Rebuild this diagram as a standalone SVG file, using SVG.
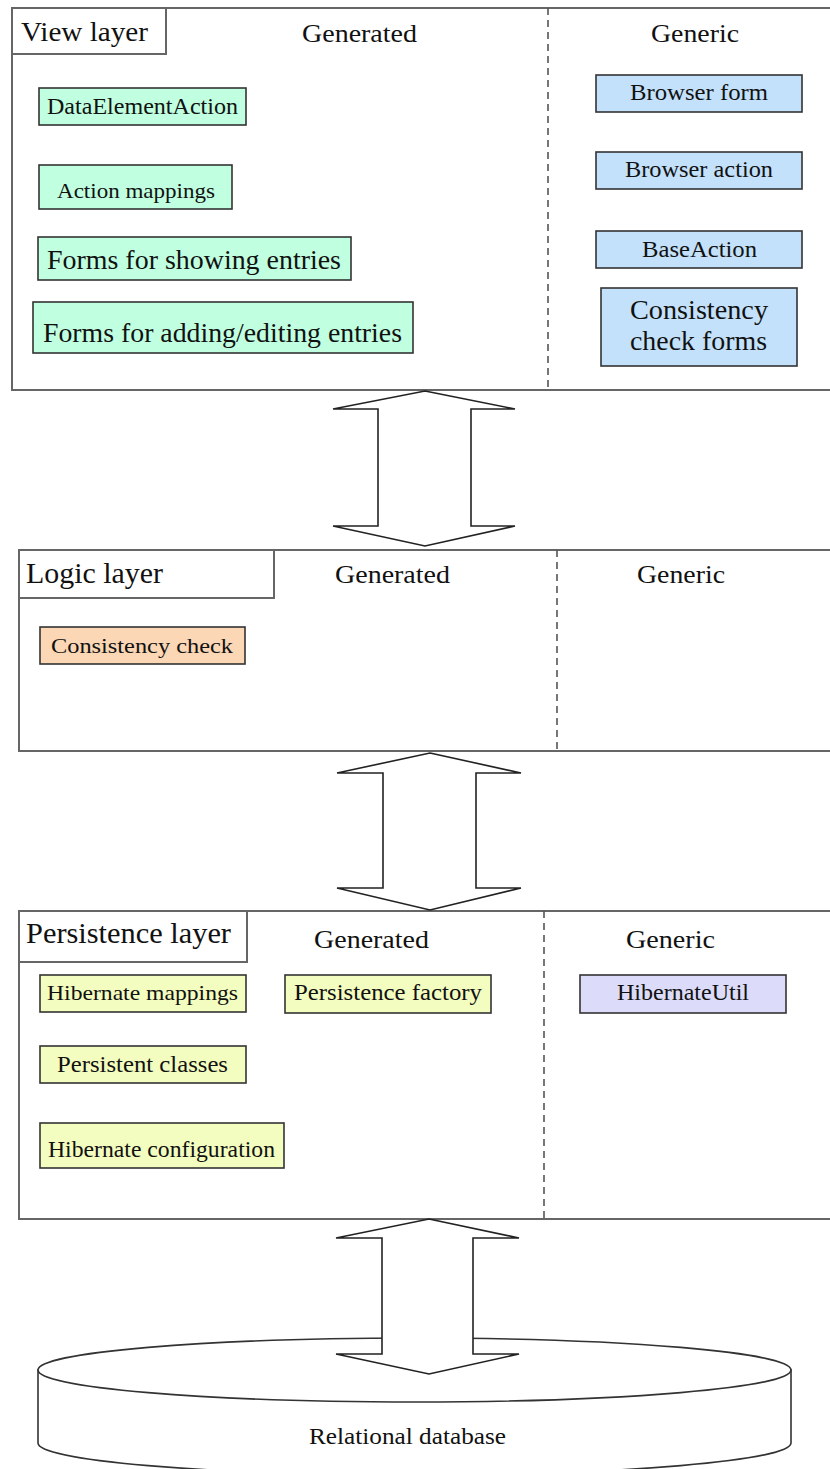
<svg xmlns="http://www.w3.org/2000/svg" width="830" height="1469" viewBox="0 0 830 1469">
<defs>
<style>
.layer{fill:#fff;stroke:#666;stroke-width:2}
.title{fill:#fff;stroke:#666;stroke-width:2}
.div{stroke:#555;stroke-width:1.6;stroke-dasharray:7,5;fill:none}
.node{stroke:#333;stroke-width:1.6}
.green{fill:#c0ffe0}
.blue{fill:#c3e1fb}
.peach{fill:#fbd7b5}
.yellow{fill:#f3fdbf}
.lav{fill:#dcdcfa}
text{font-family:'Liberation Serif','Times New Roman',Times,serif;fill:#111}
.arrow{fill:#fff;stroke:#222;stroke-width:1.6;stroke-linejoin:miter}
.db{fill:#fff;stroke:#333;stroke-width:1.6}
</style>
</defs>
<rect width="830" height="1469" fill="#fff"/>

<g id="view-layer">
<rect class="layer" x="12" y="8" width="830" height="382"/>
<rect class="title" x="12" y="8" width="154" height="46"/>
<line class="div" x1="548" y1="8" x2="548" y2="390"/>
<text x="21" y="41" font-size="28" textLength="127" lengthAdjust="spacingAndGlyphs">View layer</text>
<text x="302" y="42" font-size="26" textLength="115" lengthAdjust="spacingAndGlyphs">Generated</text>
<text x="651" y="42" font-size="26" textLength="88" lengthAdjust="spacingAndGlyphs">Generic</text>
</g>
<g id="node-dataelementaction">
<rect class="node green" x="39" y="88" width="207" height="37"/>
<text x="47" y="114" font-size="24" textLength="191" lengthAdjust="spacingAndGlyphs">DataElementAction</text>
</g>
<g id="node-action-mappings">
<rect class="node green" x="39" y="165" width="193" height="44"/>
<text x="57" y="198" font-size="22" textLength="158" lengthAdjust="spacingAndGlyphs">Action mappings</text>
</g>
<g id="node-forms-showing">
<rect class="node green" x="38" y="237" width="313" height="43"/>
<text x="47" y="269" font-size="27" textLength="294" lengthAdjust="spacingAndGlyphs">Forms for showing entries</text>
</g>
<g id="node-forms-adding">
<rect class="node green" x="33" y="302" width="380" height="51"/>
<text x="43" y="342" font-size="27" textLength="359" lengthAdjust="spacingAndGlyphs">Forms for adding/editing entries</text>
</g>
<g id="node-browser-form">
<rect class="node blue" x="596" y="75" width="206" height="37"/>
<text x="630" y="100" font-size="24" textLength="138" lengthAdjust="spacingAndGlyphs">Browser form</text>
</g>
<g id="node-browser-action">
<rect class="node blue" x="596" y="152" width="206" height="37"/>
<text x="625" y="177" font-size="24" textLength="148" lengthAdjust="spacingAndGlyphs">Browser action</text>
</g>
<g id="node-baseaction">
<rect class="node blue" x="596" y="231" width="206" height="37"/>
<text x="642" y="257" font-size="24" textLength="115" lengthAdjust="spacingAndGlyphs">BaseAction</text>
</g>
<g id="node-consistency-forms">
<rect class="node blue" x="601" y="288" width="196" height="78"/>
<text x="630" y="319" font-size="27" textLength="138" lengthAdjust="spacingAndGlyphs">Consistency</text>
<text x="630" y="350" font-size="27" textLength="137" lengthAdjust="spacingAndGlyphs">check forms</text>
</g>

<g id="logic-layer">
<rect class="layer" x="19" y="550" width="830" height="201"/>
<rect class="title" x="19" y="550" width="255" height="48"/>
<line class="div" x1="557" y1="550" x2="557" y2="751"/>
<text x="26" y="583" font-size="29" textLength="137" lengthAdjust="spacingAndGlyphs">Logic layer</text>
<text x="335" y="583" font-size="26" textLength="115" lengthAdjust="spacingAndGlyphs">Generated</text>
<text x="637" y="583" font-size="26" textLength="88" lengthAdjust="spacingAndGlyphs">Generic</text>
</g>
<g id="node-consistency-check">
<rect class="node peach" x="40" y="627" width="205" height="37"/>
<text x="51" y="653" font-size="22" textLength="182" lengthAdjust="spacingAndGlyphs">Consistency check</text>
</g>

<g id="persistence-layer">
<rect class="layer" x="19" y="911" width="830" height="308"/>
<rect class="title" x="19" y="911" width="228" height="51"/>
<line class="div" x1="544" y1="911" x2="544" y2="1219"/>
<text x="26" y="943" font-size="30" textLength="205" lengthAdjust="spacingAndGlyphs">Persistence layer</text>
<text x="314" y="948" font-size="26" textLength="115" lengthAdjust="spacingAndGlyphs">Generated</text>
<text x="626" y="948" font-size="26" textLength="89" lengthAdjust="spacingAndGlyphs">Generic</text>
</g>
<g id="node-hibernate-mappings">
<rect class="node yellow" x="40" y="975" width="206" height="37"/>
<text x="47" y="1000" font-size="22" textLength="191" lengthAdjust="spacingAndGlyphs">Hibernate mappings</text>
</g>
<g id="node-persistence-factory">
<rect class="node yellow" x="285" y="975" width="206" height="38"/>
<text x="294" y="1000" font-size="23" textLength="188" lengthAdjust="spacingAndGlyphs">Persistence factory</text>
</g>
<g id="node-hibernateutil">
<rect class="node lav" x="580" y="975" width="206" height="38"/>
<text x="617" y="1000" font-size="23" textLength="132" lengthAdjust="spacingAndGlyphs">HibernateUtil</text>
</g>
<g id="node-persistent-classes">
<rect class="node yellow" x="40" y="1046" width="206" height="37"/>
<text x="57" y="1072" font-size="23" textLength="171" lengthAdjust="spacingAndGlyphs">Persistent classes</text>
</g>
<g id="node-hibernate-configuration">
<rect class="node yellow" x="40" y="1123" width="244" height="45"/>
<text x="48" y="1157" font-size="23" textLength="227" lengthAdjust="spacingAndGlyphs">Hibernate configuration</text>
</g>

<g id="database">
<path class="db" d="M38,1370 L38,1443 A376.5,32 0 0 0 791,1443 L791,1370 Z"/>
<ellipse class="db" cx="414.5" cy="1370" rx="376.5" ry="32"/>
</g>

<g id="connectors">
<polygon class="arrow" points="425,391 515,409 471,409 471,526 515,526 425,546 333,526 378,526 378,409 333,409"/>
<polygon class="arrow" points="430,753 521,773 476,773 476,888 521,888 430,910 337,888 383,888 383,773 337,773"/>
<polygon class="arrow" points="429,1219 519,1238 473,1238 473,1354 519,1354 429,1374 336,1354 382,1354 382,1238 336,1238"/>
</g>

<g id="database-label">
<text x="309" y="1444" font-size="24" textLength="197" lengthAdjust="spacingAndGlyphs">Relational database</text>
</g>
</svg>
